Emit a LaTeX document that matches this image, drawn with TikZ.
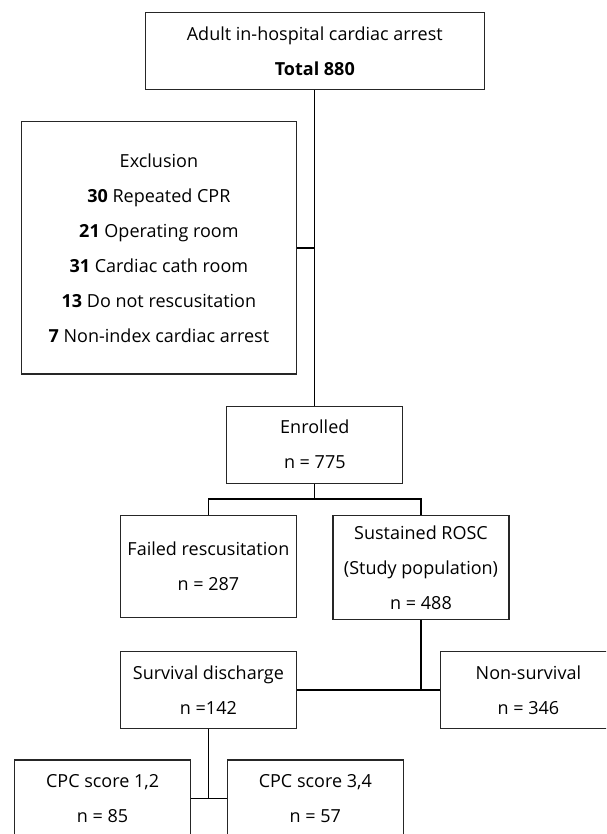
\documentclass[tikz,border=0pt]{standalone}
\usepackage{fontspec}
\setmainfont{Open Sans}
\usetikzlibrary{positioning,calc}

\begin{document}
\begin{tikzpicture}[x=1pt, y=-1pt,
  box/.style={draw=black!85, line width=1.2pt, align=center, inner sep=0pt,
    font=\fontsize{18}{35}\selectfont, minimum width=176pt, minimum height=77pt},
  link/.style={draw=black, line width=1.2pt}]

  % Define page and boxes
\useasboundingbox (0,0) rectangle (606,834); \clip (0,0) rectangle (606,834);
\node[box, minimum width=339pt] (total) at (314.8, 51.4) {Adult in-hospital cardiac arrest\\\textbf{Total 880}};
\node[box, minimum width=275pt, minimum height=252pt] (excl) at (158.9, 247.9) {Exclusion\\\textbf{30} Repeated CPR\\\textbf{21} Operating room\\\textbf{31} Cardiac cath room\\\textbf{13} Do not rescusitation\\\textbf{7} Non-index cardiac arrest};
\node[box] (enrolled) at (314.8, 444.7) {Enrolled\\n = 775};
\node[box, minimum height=102pt] (failed) at (208.4, 566.7) {Failed rescusitation\\n = 287};
\node[box, minimum height=103.6pt] (rosc) at (421, 567.5) {Sustained ROSC\\(Study population)\\n = 488};
\node[box] (survival) at (208.4, 690) {Survival discharge\\n =142};
\node[box] (nonsurv) at (528.4, 690) {Non-survival\\n = 346};
\node[box] (cpcgood) at (102.6, 798.5) {CPC score 1,2\\n = 85};
\node[box] (cpcpoor) at (315.3, 798.5) {CPC score 3,4\\n = 57};
\coordinate (split) at (314.8, 499);

  % Draw connectors between boxes
\draw[link] (total.south) -- (enrolled.north); \draw[link] (excl.east) -- (excl.east -| total.south); \draw[link] (enrolled.south) -- (split); \draw[link] (failed.north) |- (split) -| (rosc.north); \draw[link] (rosc.south) -- (rosc.south |- survival.east); \draw[link] (survival.east) -- (nonsurv.west); \draw[link] (survival.south) -- (survival.south |- cpcgood.east); \draw[link] (cpcgood.east) -- (cpcpoor.west);

\end{tikzpicture}
\end{document}
